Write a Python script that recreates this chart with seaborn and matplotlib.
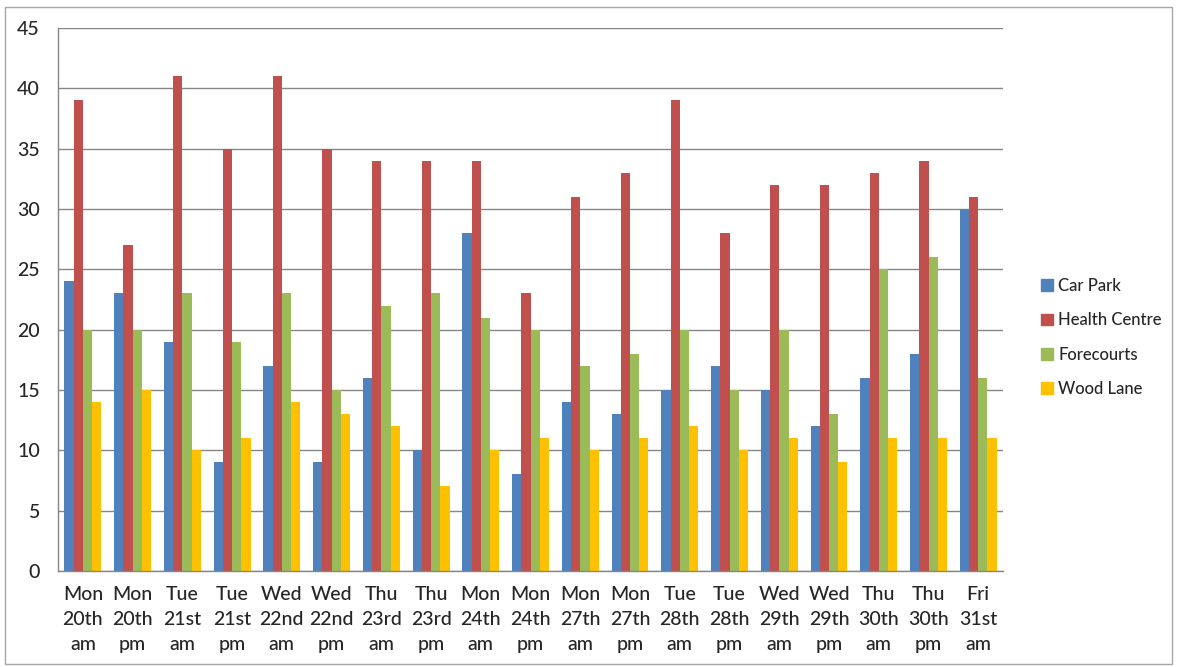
import matplotlib.pyplot as plt
import matplotlib.patches as mpatches
import numpy as np
import pandas as pd
import seaborn as sns

sessions = [
    "Mon\n20th\nam", "Mon\n20th\npm", "Tue\n21st\nam", "Tue\n21st\npm",
    "Wed\n22nd\nam", "Wed\n22nd\npm", "Thu\n23rd\nam", "Thu\n23rd\npm",
    "Mon\n24th\nam", "Mon\n24th\npm", "Mon\n27th\nam", "Mon\n27th\npm",
    "Tue\n28th\nam", "Tue\n28th\npm", "Wed\n29th\nam", "Wed\n29th\npm",
    "Thu\n30th\nam", "Thu\n30th\npm", "Fri\n31st\nam",
]
car_park = [24, 23, 19, 9, 17, 9, 16, 10, 28, 8, 14, 13, 15, 17, 15, 12, 16, 18, 30]
health_centre = [39, 27, 41, 35, 41, 35, 34, 34, 34, 23, 31, 33, 39, 28, 32, 32, 33, 34, 31]
forecourts = [20, 20, 23, 19, 23, 15, 22, 23, 21, 20, 17, 18, 20, 15, 20, 13, 25, 26, 16]
wood_lane = [14, 15, 10, 11, 14, 13, 12, 7, 10, 11, 10, 11, 12, 10, 11, 9, 11, 11, 11]

series = {
    "Car Park": car_park,
    "Health Centre": health_centre,
    "Forecourts": forecourts,
    "Wood Lane": wood_lane,
}
colors = ["#4F81BD", "#C0504D", "#9BBB59", "#FFC000"]

# long-form table for seaborn
df = pd.DataFrame(
    [(s, name, v) for name, vals in series.items() for s, v in zip(sessions, vals)],
    columns=["session", "site", "value"],
)

sns.set_style("white")
plt.rcParams["font.family"] = ["Lato", "DejaVu Sans"]

fig = plt.figure(figsize=(11.77, 6.67), dpi=100)
ax = fig.add_axes([0.0493, 0.144, 0.803, 0.814])

sns.barplot(
    data=df, x="session", y="value", hue="site", order=sessions,
    hue_order=list(series), palette=colors, width=0.74, gap=0,
    saturation=1, errorbar=None, ax=ax, legend=False, linewidth=0,
)

ax.set_ylim(0, 45)
ax.set_xlim(-0.5, len(sessions) - 0.5)
ax.set_yticks(np.arange(0, 46, 5))
ax.yaxis.grid(True, color="#868686", linewidth=1)
ax.set_axisbelow(True)
ax.set_xlabel("")
ax.set_ylabel("")

for side in ["top", "right"]:
    ax.spines[side].set_visible(False)
for side in ["left", "bottom"]:
    ax.spines[side].set_color("#868686")
    ax.spines[side].set_linewidth(1)

ax.tick_params(axis="y", labelsize=14, length=7, color="#868686", pad=6)
ax.tick_params(axis="x", which="major", labelsize=14, length=0, pad=11)
ax.set_xticks(np.arange(-0.5, len(sessions), 1), minor=True)
ax.tick_params(axis="x", which="minor", length=7, color="#868686")
for lbl in ax.get_xticklabels() + ax.get_yticklabels():
    lbl.set_fontweight("medium")
for lbl in ax.get_xticklabels():
    lbl.set_linespacing(1.55)

handles = [mpatches.Patch(color=c, label=n) for c, n in zip(colors, series)]
fig.legend(
    handles=handles, loc="center left", bbox_to_anchor=(0.872, 0.494),
    frameon=False, prop={"size": 12, "weight": "medium"},
    handlelength=0.7, handleheight=0.7, handletextpad=0.3, labelspacing=1.1,
)

# outer chart frame
fig.patches.append(mpatches.Rectangle(
    (0.004, 0.004), 0.992, 0.985, transform=fig.transFigure,
    fill=False, edgecolor="#A6A6A6", linewidth=1,
))

fig.savefig("out.png", dpi=100)
plt.close()
